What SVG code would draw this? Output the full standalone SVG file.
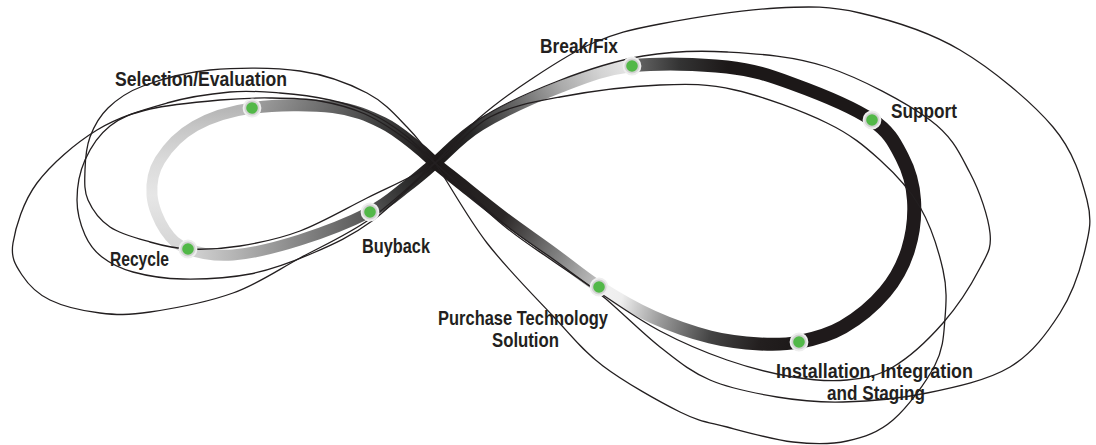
<svg xmlns="http://www.w3.org/2000/svg" width="1096" height="445" viewBox="0 0 1096 445">
<defs>
<style>
.thin{fill:none;stroke:#231f20;stroke-width:1.3}
.band{fill:none;stroke-linecap:butt}
.ring{fill:#d2d2d2;stroke:#eeeeee;stroke-width:1.8}
.dot{fill:#52b848}
.lbl{font-family:'Liberation Sans Narrow','Liberation Sans',Arial,sans-serif;font-weight:bold;font-size:21px;fill:#231f20}
</style>
<linearGradient id="gPS" gradientUnits="userSpaceOnUse" x1="599" y1="287" x2="252" y2="108">
<stop offset="0" stop-color="#c4c4c4"/><stop offset="0.145" stop-color="#7a7a7a"/><stop offset="0.3" stop-color="#2b2727"/><stop offset="0.52" stop-color="#1c1818"/><stop offset="0.68" stop-color="#3a3a3a"/><stop offset="0.82" stop-color="#666666"/><stop offset="1" stop-color="#a0a0a0"/>
</linearGradient>
<linearGradient id="gSR" gradientUnits="userSpaceOnUse" x1="0" y1="108" x2="0" y2="249">
<stop offset="0" stop-color="#b5b5b5"/><stop offset="0.13" stop-color="#c5c5c5"/><stop offset="0.37" stop-color="#dadada"/><stop offset="0.62" stop-color="#e6e6e6"/><stop offset="1" stop-color="#d5d5d5"/>
</linearGradient>
<linearGradient id="gRB" gradientUnits="userSpaceOnUse" x1="188" y1="0" x2="370" y2="0">
<stop offset="0" stop-color="#d5d5d5"/><stop offset="0.25" stop-color="#b5b5b5"/><stop offset="0.6" stop-color="#888888"/><stop offset="1" stop-color="#555555"/>
</linearGradient>
<linearGradient id="gBF" gradientUnits="userSpaceOnUse" x1="370" y1="212" x2="632" y2="66">
<stop offset="0" stop-color="#555555"/><stop offset="0.15" stop-color="#2e2e2e"/><stop offset="0.27" stop-color="#1c1818"/><stop offset="0.42" stop-color="#262626"/><stop offset="0.6" stop-color="#666666"/><stop offset="0.76" stop-color="#aaaaaa"/><stop offset="0.9" stop-color="#d4d4d4"/><stop offset="1" stop-color="#e8e8e8"/>
</linearGradient>
<linearGradient id="gFS" gradientUnits="userSpaceOnUse" x1="632" y1="0" x2="872" y2="0">
<stop offset="0" stop-color="#6a6a6a"/><stop offset="0.2" stop-color="#333333"/><stop offset="0.4" stop-color="#1c1818"/><stop offset="1" stop-color="#1c1818"/>
</linearGradient>
<linearGradient id="gIP" gradientUnits="userSpaceOnUse" x1="799" y1="342" x2="599" y2="287">
<stop offset="0" stop-color="#1c1818"/><stop offset="0.18" stop-color="#231f1f"/><stop offset="0.42" stop-color="#444444"/><stop offset="0.67" stop-color="#999999"/><stop offset="0.88" stop-color="#eeeeee"/><stop offset="1" stop-color="#f2f2f2"/>
</linearGradient>
</defs>
<rect width="1096" height="445" fill="#ffffff"/>
<g id="connectors">
<g id="band">
<path class="band" stroke="url(#gSR)" stroke-width="11" d="M252,108 C229,111.2 210.3,117.3 195,126 C179.7,134.7 167.2,148.5 160,160 C152.8,171.5 151.2,183.3 152,195 C152.8,206.7 159,221 165,230 C171,239 176.7,244.8 188,249"/>
<path class="band" stroke="url(#gRB)" stroke-width="11" d="M188,249 C199.3,253.2 214.3,256.5 233,255 C251.7,253.5 277.2,247.2 300,240 C322.8,232.8 352.2,221 370,212"/>
<path class="band" stroke="url(#gFS)" stroke-width="13" d="M632,66 C659.8,62.7 700.2,64 727,67 C753.8,70 768.8,75.2 793,84 C817.2,92.8 853.8,107.8 872,120"/>
<path class="band" stroke="#1f1a1b" stroke-width="14" d="M872,120 C890.2,132.2 895,143.7 902,157 C909,170.3 913,184.5 914,200 C915,215.5 912.8,234.7 908,250 C903.2,265.3 895.8,279.2 885,292 C874.2,304.8 857.3,318.7 843,327 C828.7,335.3 812.8,339.2 799,342"/>
<path class="band" stroke="url(#gIP)" stroke-width="13" d="M799,342 C785.2,344.8 774.8,344.8 760,344 C745.2,343.2 727.8,341.5 710,337 C692.2,332.5 671.5,325.3 653,317 C634.5,308.7 615.7,297.7 599,287"/>
<path class="band" stroke="url(#gBF)" stroke-width="12" d="M370,212 C387.8,203 396.2,194.2 407,186 C417.8,177.8 422.8,173.2 435,163 C447.2,152.8 459.2,137.7 480,125 C500.8,112.3 534.7,96.8 560,87 C585.3,77.2 604.2,69.3 632,66"/>
<path class="band" stroke="url(#gPS)" stroke-width="12" d="M599,287 C582.3,276.3 569,264.7 553,253 C537,241.3 518.5,228.7 503,217 C487.5,205.3 471.3,192 460,183 C448.7,174 442.2,169 435,163 C427.8,157 425.7,153.7 417,147 C408.3,140.3 397,129.7 383,123 C369,116.3 354.8,109.5 333,107 C311.2,104.5 275,104.8 252,108"/>
</g>
<g id="loops">
<path class="thin" d="M435,163 C421.7,143.7 418.3,138.7 407,127 S384.8,102.3 367,93 S326.2,74.8 300,71 S236.2,67.5 210,70 S160,79.7 143,86 S116.8,99.5 108,108 S93.8,126.7 90,137 S85.3,159.5 85,170 S83.8,190.5 88,200 S99.7,220 110,227 S137,238.3 150,242 S173,248.3 188,249 S221.3,249 240,246 S278.8,239 300,231 S344.5,209.3 367,198 S414.5,176.5 435,163 S469.2,128 490,117 S531.7,102.3 560,97 S630.8,86.2 660,85 S707.2,83.7 735,90 S802.8,111.3 827,123 S864.5,146 880,160 S909.5,188.7 920,207 S938.8,251.5 943,270 S946.3,302.2 945,318 S943.7,348 935,365 S907.7,407.3 893,420 S863.7,437.3 847,441 S813,444.3 793,442 S745.8,432 727,427 S700.7,422.2 680,412 S624.2,382 603,366 S572.3,336.5 553,316 S506.7,268.5 487,243 S448.3,182.3 435,163 Z"/>
<path class="thin" d="M435,163 C418.7,148 415.8,143.3 405,135 S382.5,118.8 370,113 S345,103.3 330,100 S296.7,94.3 280,93 S248.8,90.3 230,92 S189.2,96.7 167,103 S118.7,116.7 97,130 S51,164.2 37,183 S15.5,227.7 13,243 S15.8,265.5 22,275 S37,293.7 50,300 S83.3,311 100,313 S127.8,315.3 150,312 S208,302 233,293 S277.2,270.3 300,258 S347.5,234.8 370,219 S417,179.7 435,163 S462.2,132.8 478,119 S510.8,92.7 530,80 S571.3,52.3 593,43 S629.3,29.8 660,24 S743.7,9.8 777,8 S829.5,6 860,13 S927.8,31 960,50 S1031.8,102 1053,127 S1081.7,179.5 1087,200 S1089.5,231.2 1085,250 S1072.5,293.5 1060,313 S1032.2,353.7 1010,367 S954.8,387.2 927,393 S868,401.3 843,402 S799.2,400.7 777,397 S729.5,388.3 710,380 S678.3,361.3 660,347 S617.8,308.3 600,294 S569.2,272.5 553,261 S522.7,241.3 503,225 S451.3,178 435,163 Z"/>
<path class="thin" d="M435,163 C418.3,148.7 414.7,145.2 403,137 S378.8,120 365,114 S335.8,103.7 320,101 S286.7,98.2 270,98 S240,98.2 220,100 S168.3,104.7 150,109 S120.8,117.5 110,126 S90.5,147.7 85,160 S77,187.5 77,200 S80.8,225.5 85,235 S94,250.8 102,257 S119.5,268.3 133,272 S163.5,278.7 183,279 S228.3,278.3 250,274 S292.7,261.8 313,253 S351.7,236 372,221 S417.3,179.8 435,163 S457.5,133.7 478,120 S530.5,91.7 558,81 S614.8,60.8 643,56 S696.3,50.2 727,52 S793.2,55.7 827,67 S906.2,102.3 930,120 S960,154.2 970,173 S988.3,217.2 990,233 S987.8,253 980,268 S957.5,306.5 943,323 S909,357.5 893,367 S863.7,378.3 847,380 S813,380.3 793,377 S749.2,367.7 727,360 S681.2,342.2 660,331 S617.8,305 600,293 S569.2,270.7 553,259 S522.7,239 503,223 S451.7,177.3 435,163 Z"/>
</g>
</g>
<g id="node-selection"><circle class="ring" cx="252" cy="108" r="8.5"/><circle class="dot" cx="252" cy="108" r="5.8"/><text class="lbl" x="115" y="86" textLength="172" lengthAdjust="spacingAndGlyphs">Selection/Evaluation</text></g>
<g id="node-recycle"><circle class="ring" cx="188" cy="249" r="8.5"/><circle class="dot" cx="188" cy="249" r="5.8"/><text class="lbl" x="110" y="266" textLength="59" lengthAdjust="spacingAndGlyphs">Recycle</text></g>
<g id="node-buyback"><circle class="ring" cx="370" cy="212" r="8.5"/><circle class="dot" cx="370" cy="212" r="5.8"/><text class="lbl" x="362" y="253" textLength="68" lengthAdjust="spacingAndGlyphs">Buyback</text></g>
<g id="node-breakfix"><circle class="ring" cx="632" cy="66" r="8.5"/><circle class="dot" cx="632" cy="66" r="5.8"/><text class="lbl" x="540" y="53" textLength="78" lengthAdjust="spacingAndGlyphs">Break/Fix</text></g>
<g id="node-support"><circle class="ring" cx="872" cy="120" r="8.5"/><circle class="dot" cx="872" cy="120" r="5.8"/><text class="lbl" x="891" y="118" textLength="66" lengthAdjust="spacingAndGlyphs">Support</text></g>
<g id="node-purchase"><circle class="ring" cx="599" cy="287" r="8.5"/><circle class="dot" cx="599" cy="287" r="5.8"/><text class="lbl" x="438" y="325" textLength="170" lengthAdjust="spacingAndGlyphs">Purchase Technology</text><text class="lbl" x="492" y="347" textLength="67" lengthAdjust="spacingAndGlyphs">Solution</text></g>
<g id="node-installation"><circle class="ring" cx="799" cy="342" r="8.5"/><circle class="dot" cx="799" cy="342" r="5.8"/><text class="lbl" x="776" y="378" textLength="197" lengthAdjust="spacingAndGlyphs">Installation, Integration</text><text class="lbl" x="827" y="400" textLength="98" lengthAdjust="spacingAndGlyphs">and Staging</text></g>
</svg>
